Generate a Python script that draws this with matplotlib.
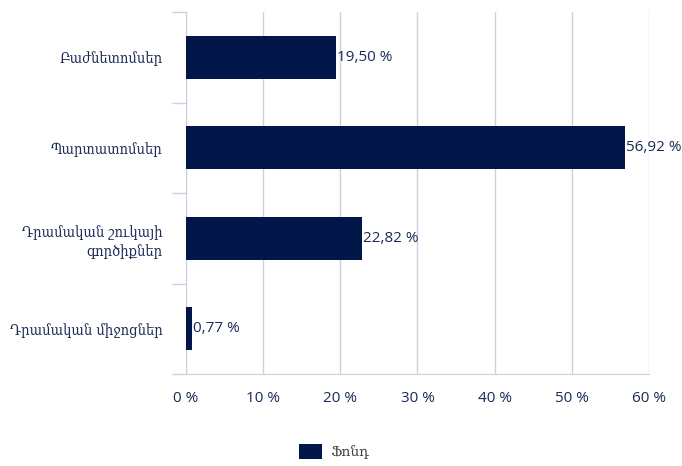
import numpy as np
import matplotlib.pyplot as plt
from matplotlib.ticker import FixedLocator

categories = ["Բաժնետոմսեր", "Պարտատոմսեր", "Դրամական շուկայի\nգործիքներ", "Դրամական միջոցներ"]
values = [19.50, 56.92, 22.82, 0.77]
xticks = [0, 10, 20, 30, 40, 50, 60]
legend_label = "Ֆոնդ"

navy = "#02164a"
grid_c = "#c9d2de"
text_c = "#1b2a57"

fig = plt.figure(figsize=(6.82, 4.66), dpi=100)
ax = fig.add_axes([0.2727, 0.1974, 0.9516 - 0.2727, 0.9742 - 0.1974])

y = np.arange(len(categories))
bars = ax.barh(y, values, height=0.475, color=navy, label=legend_label, zorder=3)

for b, v in zip(bars, values):
    txt = ("%.2f" % v).replace(".", ",") + " %"
    ax.text(b.get_width() + 0.1, b.get_y() + b.get_height() / 2, txt,
            va="center", ha="left", fontsize=11, color=text_c, family="Open Sans", zorder=4)

ax.set_xlim(0, 60)
ax.set_ylim(len(categories) - 0.5, -0.5)
ax.set_xticks(xticks)
ax.set_xticklabels(["%d %%" % t for t in xticks], fontsize=11, color=text_c, family="Open Sans")
ax.tick_params(axis="x", length=0, pad=12)
ax.xaxis.grid(True, color=grid_c, linewidth=1, zorder=0)

ax.set_yticks(y)
ax.set_yticklabels(categories, fontsize=10.5, color=text_c, family="DejaVu Serif",
                   fontstretch="condensed", ha="right", multialignment="right",
                   linespacing=1.4)
ax.yaxis.set_minor_locator(FixedLocator(np.arange(-0.5, len(categories), 1)))
ax.tick_params(axis="y", which="major", length=0, pad=17)
ax.tick_params(axis="y", which="minor", length=10, color=grid_c, width=1)

for s in ["top", "right"]:
    ax.spines[s].set_visible(False)
ax.spines["left"].set_color(grid_c)
ax.spines["bottom"].set_color(grid_c)

leg = fig.legend(handles=[bars], labels=[legend_label], loc="lower center",
                 bbox_to_anchor=(0.49, -0.012), frameon=False, handlelength=1.6, handleheight=1.3,
                 handletextpad=0.6, prop={"family": "DejaVu Serif", "size": 10})
for t in leg.get_texts():
    t.set_color("#444444")

fig.savefig("out.png", dpi=100)
